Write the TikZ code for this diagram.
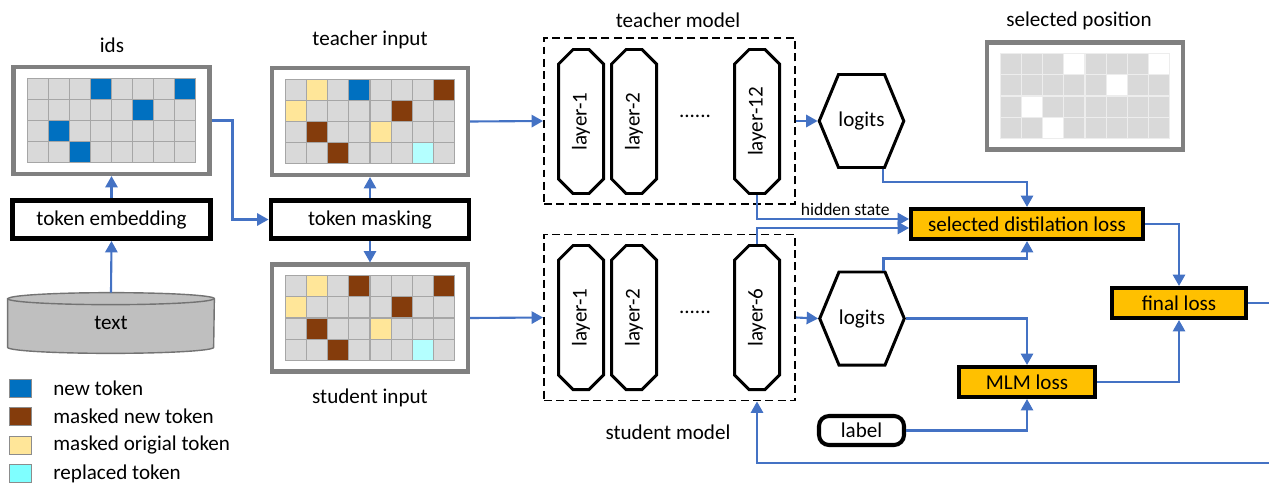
\documentclass[tikz,border=0pt]{standalone}
\usepackage{fontspec}
\setmainfont{Carlito}
\usetikzlibrary{shapes.geometric, shapes.misc, shapes.symbols, arrows.meta, positioning, calc, backgrounds}

\definecolor{newblue}{HTML}{0070C0}
\definecolor{masknew}{HTML}{843C0C}
\definecolor{maskorig}{HTML}{FFE699}
\definecolor{replcyan}{HTML}{B4FFFF}
\definecolor{legcyan}{HTML}{7FFFFF}
\definecolor{cellgray}{HTML}{D9D9D9}
\definecolor{cellline}{HTML}{A6A6A6}
\definecolor{selline}{HTML}{EDEDED}
\definecolor{boxgray}{HTML}{808080}
\definecolor{flowblue}{HTML}{4472C4}
\definecolor{lossorange}{HTML}{FFC000}
\definecolor{cylgray}{HTML}{BFBFBF}

\begin{document}
\begin{tikzpicture}[
    x=0.2mm, y=-0.2mm,
    font=\fontsize{12}{14}\selectfont,
    gridbox/.style={rectangle, draw=boxgray, line width=2.3pt, fill=white, minimum width=3.92cm, minimum height=2.14cm},
    cell/.style={draw=cellline, fill=cellgray, line width=0.6pt},
    selcell/.style={draw=selline, fill=cellgray, line width=0.6pt},
    procbox/.style={rectangle, draw=black, line width=2.8pt, fill=white, minimum width=3.96cm, minimum height=0.76cm, inner sep=0pt},
    model/.style={rectangle, draw=black, line width=1.1pt, dash pattern=on 4.5pt off 2.5pt, minimum width=5.02cm, minimum height=3.32cm},
    layer/.style={chamfered rectangle, chamfered rectangle xsep=0.3cm, draw=black, line width=1.7pt, rotate=90, minimum width=2.88cm, minimum height=0.9cm, inner sep=0pt},
    logit/.style={signal, signal to=east and west, signal pointer angle=135, draw=black, line width=1.7pt, minimum width=1.6cm, minimum height=1.86cm, inner sep=0pt},
    loss/.style={rectangle, draw=black, line width=2.3pt, fill=lossorange, minimum height=0.6cm, inner sep=0pt},
    labelbox/.style={rectangle, rounded corners=0.2cm, draw=black, line width=2.3pt, minimum width=1.7cm, minimum height=0.58cm, inner sep=0pt},
    cyl/.style={draw=black!55, line width=0.8pt, fill=cylgray},
    flow/.style={draw=flowblue, line width=1.2pt, -{Triangle[width=7pt, length=6.5pt]}},
    legsq/.style={rectangle, draw=black!45, line width=0.5pt, minimum width=0.44cm, minimum height=0.36cm, inner sep=0pt},
    title/.style={inner sep=0pt}
]
    \useasboundingbox (0,0) rectangle (1269,484);

    % input side
    \node[gridbox] (ids) at (111.5,120.5) {};
    \node[title] (idst) at (112,45) {ids};
    \node[procbox] (emb) at (111.5,219.5) {token embedding};
    \node[minimum width=4.12cm, minimum height=1.2cm, inner sep=0pt] (corpus) at (111,323) {text};
    \node[gridbox] (tin) at (370,121.5) {};
    \node[title] (tint) at (370,40) {teacher input};
    \node[procbox] (mask) at (370,219.5) {token masking};
    \node[gridbox] (sin) at (370,318) {};
    \node[title] (sint) at (370,398) {student input};

    \begin{scope}[on background layer]
        \draw[cyl] ([yshift=-0.12cm]corpus.north west) -- ([yshift=0.12cm]corpus.south west)
            arc[start angle=180, end angle=360, x radius=2.06cm, y radius=0.12cm]
            -- ([yshift=-0.12cm]corpus.north east)
            arc[start angle=0, end angle=180, x radius=2.06cm, y radius=0.12cm] -- cycle;
        \draw[cyl, fill=none] ([yshift=-0.12cm]corpus.north west)
            arc[start angle=180, end angle=360, x radius=2.06cm, y radius=0.12cm];
    \end{scope}

    % token grids
    \foreach \g in {ids,tin,sin}
        \foreach \r in {1,...,4}
            \foreach \c in {1,...,8}
                \draw[cell] ($(\g.center)+(\c*21.1-105.5,\r*21.2-63.6)$) rectangle ++(21.1,21.2);
    \foreach \r/\c/\col in {1/2/maskorig,1/4/newblue,1/8/masknew,2/1/maskorig,2/6/masknew,3/2/masknew,3/5/maskorig,4/3/masknew,4/7/replcyan}
        \draw[cell, fill=\col] ($(tin.center)+(\c*21.1-105.5,\r*21.2-63.6)$) rectangle ++(21.1,21.2);
    \foreach \r/\c/\col in {1/2/maskorig,1/4/masknew,1/8/masknew,2/1/maskorig,2/6/masknew,3/2/masknew,3/5/maskorig,4/3/masknew,4/7/replcyan}
        \draw[cell, fill=\col] ($(sin.center)+(\c*21.1-105.5,\r*21.2-63.6)$) rectangle ++(21.1,21.2);

    % selected position
    \node[gridbox] (sel) at (1085,96) {};
    \node[title] (selt) at (1079,21) {selected position};
    \foreach \r in {1,...,4}
        \foreach \c in {1,...,8}
            \draw[selcell] ($(sel.center)+(\c*21.1-105.5,\r*21.2-63.6)$) rectangle ++(21.1,21.2);
    \foreach \r/\c in {1/4,1/8,2/6,3/2,4/3} {
        \draw[cell, fill=newblue] ($(ids.center)+(\c*21.1-105.5,\r*21.2-63.6)$) rectangle ++(21.1,21.2);
        \draw[selcell, fill=white] ($(sel.center)+(\c*21.1-105.5,\r*21.2-63.6)$) rectangle ++(21.1,21.2);
    }

    % teacher model
    \node[model] (tmodel) at (669.5,121) {};
    \node[title] (tmodelt) at (678,20) {teacher model};
    \node[layer] (tl1) at (581,121.5) {layer-1};
    \node[layer] (tl2) at (634,121.5) {layer-2};
    \node (tdots) at (695,116) {......};
    \node[layer] (tl12) at (757,121.5) {layer-12};
    \node[logit] (tlogit) at (861.5,121) {logits};

    % student model
    \node[model] (smodel) at (669.5,317.5) {};
    \node[title] (smodelt) at (668,432) {student model};
    \node[layer] (sl1) at (581,317.5) {layer-1};
    \node[layer] (sl2) at (634,317.5) {layer-2};
    \node (sdots) at (695,312) {......};
    \node[layer] (sl6) at (757,317.5) {layer-6};
    \node[logit] (slogit) at (862,318.5) {logits};

    % losses
    \node[loss, minimum width=4.64cm] (sdl) at (1027,224) {selected distilation loss};
    \node[loss, minimum width=2.72cm] (mlm) at (1027,382) {MLM loss};
    \node[loss, minimum width=2.68cm] (final) at (1179,303) {final loss};
    \node[labelbox] (lab) at (861.5,430.5) {label};
    \coordinate (fbk) at (1275,463);

    % connectors
    \draw[flow] (corpus.north) -- (emb.south);
    \draw[flow] (emb.north) -- (ids.south);
    \draw[flow] (ids.east) -- ++(21,0) |- (mask.west);
    \draw[flow] (mask.north) -- (tin.south);
    \draw[flow] (mask.south) -- (sin.north);
    \draw[flow] (tin.east) -- (tmodel.west);
    \draw[flow] (sin.east) -- (smodel.west);
    \draw[flow] (tmodel.east) -- (tlogit.west);
    \draw[flow] (smodel.east) -- (slogit.west);
    \draw[flow] ([xshift=0.43cm]tlogit.south) -- ++(0,13) -| (sdl.north);
    \draw[flow] (tl12.west) |- ([yshift=0.1cm]sdl.west) node[pos=0.79, above, font=\fontsize{10}{12}\selectfont, inner sep=1.5pt] (hid) {hidden state};
    \draw[flow] (sl6.east) |- ([yshift=-0.08cm]sdl.west);
    \draw[flow] ([xshift=0.43cm]slogit.north) -- ++(0,-12) -| (sdl.south);
    \draw[flow] (slogit.east) -| (mlm.north);
    \draw[flow] (lab.east) -| (mlm.south);
    \draw[flow] (sdl.east) -| (final.north);
    \draw[flow] (mlm.east) -| (final.south);
    \draw[flow] (final.east) -| (fbk) -| (smodel.south -| sl6);

    % legend
    \foreach \i/\col/\txt in {0/newblue/new token,1/masknew/masked new token,2/maskorig/masked origial token,3/legcyan/replaced token} {
        \node[legsq, fill=\col] (sq\i) at (20.5,{388+28.5*\i}) {};
        \node[anchor=west, inner sep=0pt] (leg\i) at (53,{388+28.5*\i}) {\txt};
    }

\end{tikzpicture}
\end{document}
